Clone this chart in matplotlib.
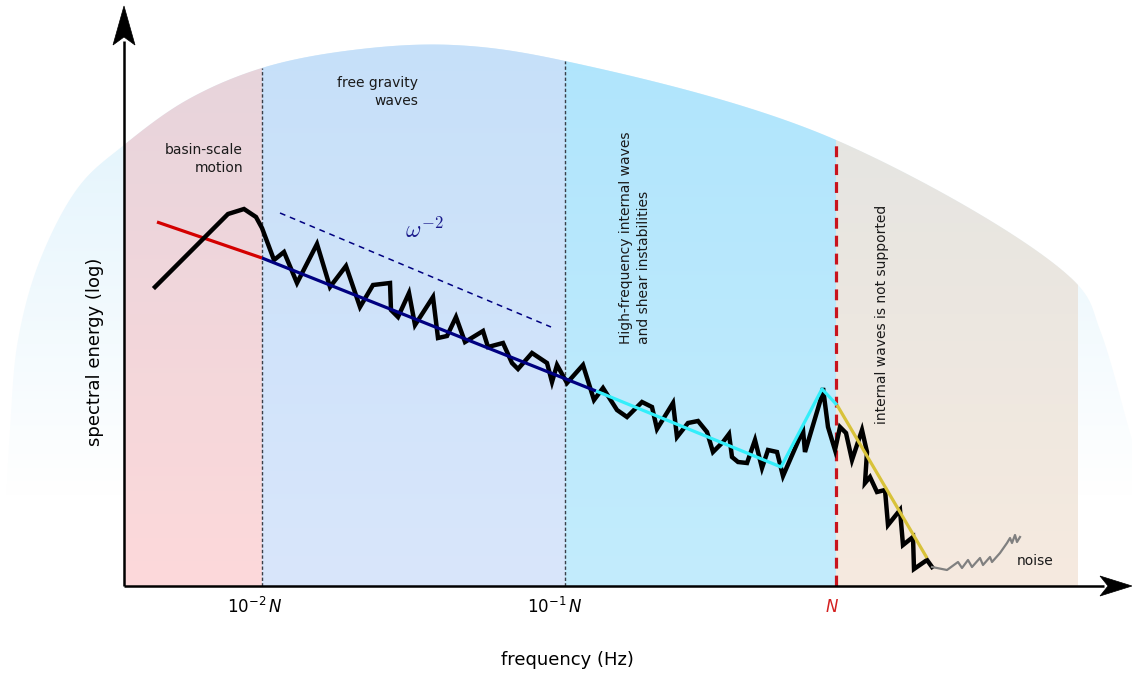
import numpy as np
import matplotlib
matplotlib.use('Agg')
import matplotlib.pyplot as plt
from matplotlib.patches import Polygon
from matplotlib.colors import to_rgb

# schematic units: x, y measured from the axes origin
spec_x = [31, 104, 120, 132, 138, 150, 160, 173, 193, 206, 222, 236, 249, 266, 267,
          274, 285, 291, 309, 314, 323, 332, 341, 359, 364, 379, 388, 394, 408, 423,
          428, 433, 443, 459, 470, 479, 493, 503, 518, 528, 533, 549, 553, 564, 574,
          583, 589, 599, 605, 608, 614, 623, 631, 638, 644, 653, 659, 679, 681, 698,
          699, 704, 711, 716, 722, 728, 738, 743, 741, 746, 753, 761, 764, 776, 779,
          789, 790, 803, 808]
spec_y = [299, 372, 377, 369, 358, 326, 334, 303, 342, 299, 320, 279, 301, 303, 276,
          269, 293, 261, 289, 248, 250, 269, 244, 255, 239, 243, 223, 217, 233, 223,
          204, 221, 203, 221, 186, 198, 176, 169, 184, 179, 157, 183, 149, 163, 165,
          154, 134, 144, 152, 129, 124, 123, 146, 118, 136, 134, 110, 156, 134, 191,
          198, 159, 136, 159, 153, 126, 156, 134, 103, 109, 94, 96, 61, 76, 41,
          49, 17, 26, 19]
noise_x = [808, 823, 834, 838, 844, 848, 856, 859, 866, 868, 876, 883, 886, 888, 891, 893, 896]
noise_y = [19, 16, 24, 18, 26, 19, 28, 21, 29, 24, 33, 43, 48, 43, 51, 44, 49]

red_x, red_y = [33, 138], [364, 328]
navy_x, navy_y = [138, 472], [328, 195]
cyan_x, cyan_y = [472, 657, 698, 713], [195, 119, 197, 181]
yellow_x, yellow_y = [713, 803], [181, 28]
slope_x, slope_y = [156, 427], [373, 259]

edges = [0, 138, 441, 712, 954]
top_cols = ['#e6d4dc', '#c6e0f9', '#b0e5fc', '#e2e4e2']
bot_cols = ['#fdd9da', '#d9e6fb', '#c3ecfd', '#f6eadf']

tick_x = [131, 431, 708]
tick_labels = [r'$10^{-2}\,N$', r'$10^{-1}\,N$', r'$N$']
tick_colors = ['black', 'black', '#d42020']

dome_x = [-119, -114, -106, -84, -44, 0, 63, 138, 229, 329, 441, 712, 954, 976, 1008]
dome_y = [60, 156, 246, 326, 401, 441, 486, 518, 536, 541, 525, 446, 301, 256, 146]


def smooth(xs, ys, n=40):
    # centripetal catmull-rom through the outline points
    p = np.column_stack([xs, ys]).astype(float)
    p = np.vstack([2 * p[0] - p[1], p, 2 * p[-1] - p[-2]])
    out = []
    for i in range(1, len(p) - 2):
        p0, p1, p2, p3 = p[i - 1], p[i], p[i + 1], p[i + 2]
        t0 = 0.0
        t1 = t0 + np.linalg.norm(p1 - p0) ** 0.5
        t2 = t1 + np.linalg.norm(p2 - p1) ** 0.5
        t3 = t2 + np.linalg.norm(p3 - p2) ** 0.5
        t = np.linspace(t1, t2, n, endpoint=False)[:, None]
        a1 = (t1 - t) / (t1 - t0) * p0 + (t - t0) / (t1 - t0) * p1
        a2 = (t2 - t) / (t2 - t1) * p1 + (t - t1) / (t2 - t1) * p2
        a3 = (t3 - t) / (t3 - t2) * p2 + (t - t2) / (t3 - t2) * p3
        b1 = (t2 - t) / (t2 - t0) * a1 + (t - t0) / (t2 - t0) * a2
        b2 = (t3 - t) / (t3 - t1) * a2 + (t - t1) / (t3 - t1) * a3
        out.append((t2 - t) / (t2 - t1) * b1 + (t - t1) / (t2 - t1) * b2)
    out.append(p[-2][None])
    return np.vstack(out)


def gradient(ax, x0, x1, y0, y1, c_bot, c_top, clip, z):
    t = np.linspace(0, 1, 256)[:, None, None]
    a, b = np.array(to_rgb(c_bot)), np.array(to_rgb(c_top))
    img = a + (b - a) * t
    img = np.repeat(img, 2, axis=1)
    im = ax.imshow(img, extent=[x0, x1, y0, y1], origin='lower', aspect='auto',
                   interpolation='bilinear', zorder=z)
    im.set_clip_path(clip)


fig = plt.figure(figsize=(11.32, 6.74), dpi=100)
ax = fig.add_axes([0, 0, 1, 1])
ax.set_xlim(-124, 1008)
ax.set_ylim(-88, 586)
ax.axis('off')

curve = smooth(dome_x, dome_y)
dome_pts = np.vstack([curve, [[1008, 0], [-119, 0]]])
dome = Polygon(dome_pts, closed=True, facecolor='none', edgecolor='none')
ax.add_patch(dome)

# outer halo, fades to white
gradient(ax, -124, 1008, 90, 545, '#ffffff', '#def2fc', dome, 0)
for i in range(4):
    gradient(ax, edges[i], edges[i + 1], 0, 545, bot_cols[i], top_cols[i], dome, 1)

# region dividers
order = np.argsort(curve[:, 0])
top_at = np.interp(edges[1:4], curve[order, 0], curve[order, 1])
for xe, yt in zip(edges[1:3], top_at[:2]):
    ax.plot([xe, xe], [0, yt], color='#3a3f48', lw=1.0, ls=(0, (2.4, 1.6)), zorder=2)
ax.plot([edges[3], edges[3]], [0, top_at[2]], color='#c8141e', lw=2.3,
        ls=(0, (3.4, 2.2)), zorder=2)

ax.plot(red_x, red_y, color='#d40000', lw=2.3, solid_capstyle='butt', zorder=3)
ax.plot(spec_x, spec_y, color='black', lw=3.2, solid_joinstyle='miter', zorder=4)
ax.plot(noise_x, noise_y, color='#808080', lw=1.6, zorder=4)
ax.plot(navy_x, navy_y, color='#000080', lw=2.3, solid_capstyle='butt', zorder=5)
ax.plot(cyan_x, cyan_y, color='#33eefa', lw=2.3, solid_capstyle='butt', zorder=5)
ax.plot(yellow_x, yellow_y, color='#d8c23a', lw=2.3, solid_capstyle='butt', zorder=5)
ax.plot(slope_x, slope_y, color='#000080', lw=1.1, ls=(0, (3.8, 3.2)), zorder=5)
ax.text(300, 356, r'$\omega^{-2}$', color='#1a1a8c', fontsize=17,
        math_fontfamily='cm', ha='center', va='center', zorder=6)

# region labels
ax.text(119, 427, 'basin-scale\nmotion', ha='right', va='center', multialignment='right',
        fontsize=10, color='#1a1a1a', linespacing=1.35, zorder=6)
ax.text(294, 494, 'free gravity\nwaves', ha='right', va='center', multialignment='right',
        fontsize=10, color='#1a1a1a', linespacing=1.35, zorder=6)
ax.text(511, 242, 'High-frequency internal waves\nand shear instabilities', rotation=90,
        ha='center', va='bottom', multialignment='left', fontsize=10, color='#1a1a1a',
        linespacing=1.3, zorder=6)
ax.text(758, 162, 'internal waves is not supported', rotation=90, ha='center',
        va='bottom', fontsize=10, color='#1a1a1a', zorder=6)
ax.text(893, 25, 'noise', ha='left', va='center', fontsize=10, color='#1a1a1a', zorder=6)

# axes with arrow heads
ax.plot([0, 0], [0, 545], color='black', lw=1.8, zorder=7, solid_capstyle='butt')
ax.plot([0, 980], [0, 0], color='black', lw=1.8, zorder=7, solid_capstyle='butt')
ax.add_patch(Polygon([[0, 580], [-11, 541], [0, 549], [11, 541]], closed=True,
                     facecolor='black', edgecolor='black', lw=0.5, zorder=8))
ax.add_patch(Polygon([[1008, 0], [976, 10], [984, 0], [976, -10]], closed=True,
                     facecolor='black', edgecolor='black', lw=0.5, zorder=8))

for xt, lab, col in zip(tick_x, tick_labels, tick_colors):
    ax.text(xt, -21, lab, ha='center', va='center', fontsize=12, color=col,
            math_fontfamily='dejavusans')

ax.text(443, -74, 'frequency (Hz)', ha='center', va='center', fontsize=13)
ax.text(-29, 234, 'spectral energy (log)', ha='center', va='center', rotation=90,
        fontsize=13)

fig.savefig('out.png', dpi=100)
